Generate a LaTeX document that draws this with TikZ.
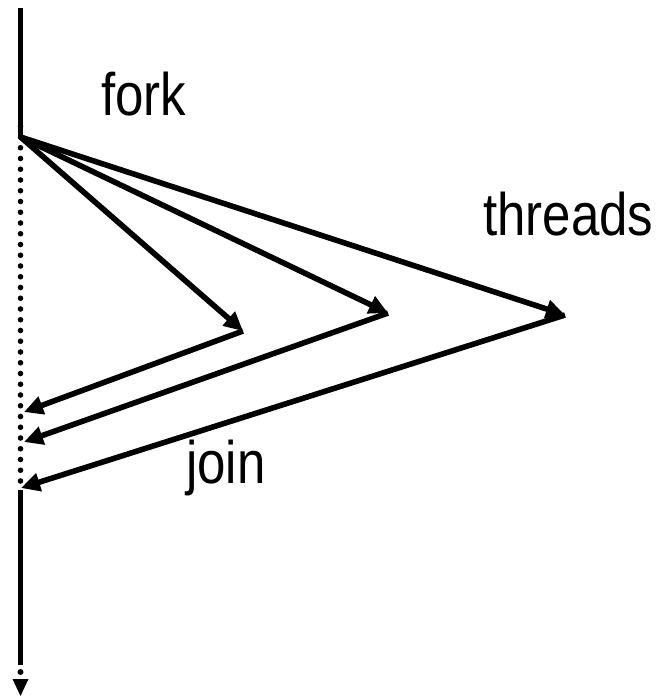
\documentclass[tikz,border=0pt]{standalone}
\usepackage{fontspec}
\setmainfont{Liberation Sans}
\usetikzlibrary{arrows.meta}
\begin{document}
\begin{tikzpicture}[x=1pt,y=-1pt,
  ln/.style={line width=5.6pt},
  arr/.style={ln,-{Triangle[length=19pt,width=18pt]}},
  lbl/.style={anchor=base west,inner sep=0pt,font=\fontsize{60}{72}\selectfont,xscale=0.85}]
\useasboundingbox (0,0) rectangle (660,696);
\coordinate (top) at (20.5,8);
\coordinate (fk) at (20.5,137);
\coordinate (jn) at (20.5,490);
\coordinate (bend) at (20.5,665);
\coordinate (dot) at (20.5,672);
\coordinate (a1) at (243,331);
\coordinate (a2) at (388,313);
\coordinate (a3) at (565,315);
\coordinate (r1) at (24,412);
\coordinate (r2) at (24,442);
\coordinate (r3) at (21,488);
% main timeline
\draw[ln,line cap=butt] (top) -- (fk);
\draw[line width=5.6pt,line cap=round,dash pattern=on 0pt off 10.75pt] ([yshift=10.75pt]fk) -- (jn);
\draw[ln,line cap=butt] (jn) -- (bend);
\fill (dot) circle (3pt);
\fill (12.5,679) -- (28.5,679) -- (20.5,696) -- cycle;
% fork arrows
\draw[arr] (fk) -- (a1);
\draw[arr] (fk) -- (a2);
\draw[arr] (fk) -- (a3);
% join arrows
\draw[arr] (a1) -- (r1);
\draw[arr] (a2) -- (r2);
\draw[arr] (a3) -- (r3);
% labels
\node[lbl] (fork) at (101,115) {fork};
\node[lbl] (threads) at (483,235) {threads};
\node[lbl] (join) at (186,483) {join};
\end{tikzpicture}
\end{document}
